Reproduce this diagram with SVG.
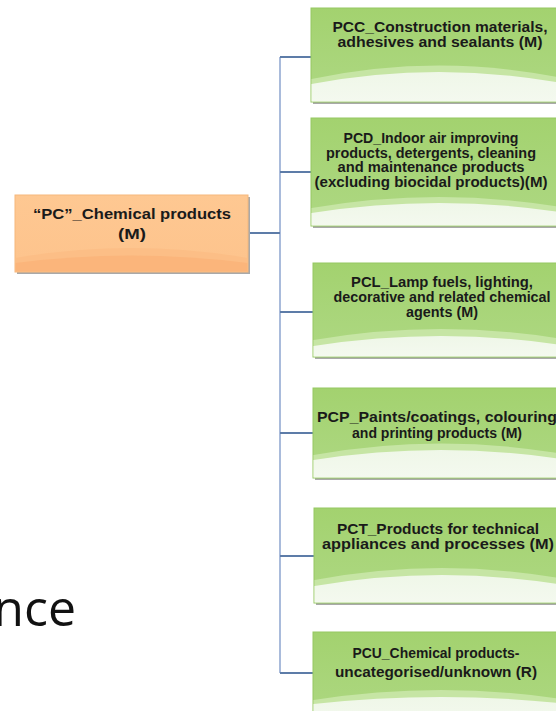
<svg xmlns="http://www.w3.org/2000/svg" width="556" height="711" viewBox="0 0 556 711">
  <defs>
    <linearGradient id="gGreen" x1="0" y1="0" x2="0" y2="1">
      <stop offset="0" stop-color="#a3d26f"/>
      <stop offset="1" stop-color="#aed883"/>
    </linearGradient>
    <linearGradient id="gGloss" x1="0" y1="0" x2="0" y2="1">
      <stop offset="0" stop-color="#eff7e8"/>
      <stop offset="1" stop-color="#f4f9ef"/>
    </linearGradient>
    <linearGradient id="gOrange" x1="0" y1="0" x2="0" y2="1">
      <stop offset="0" stop-color="#fec892"/>
      <stop offset="1" stop-color="#fdc38c"/>
    </linearGradient>
    <style>
      .shadow { fill: #a9a9a9; }
      .green { fill: url(#gGreen); stroke: #95c862; stroke-width: 1; }
      .band { fill: #c6e5a4; }
      .gloss { fill: url(#gGloss); }
      .orange { fill: url(#gOrange); stroke: #f5b87c; stroke-width: 1; }
      .oband { fill: #fbb57b; }
      .oband2 { fill: #fcbe86; }
      .lbl { font-family: "Liberation Sans", Arial, sans-serif; font-weight: 700; font-size: 14px; fill: #1a1a1a; text-anchor: middle; }
      .root { font-size: 15.5px; }
      .conn { fill: none; stroke-width: 2; }
      .trunk { stroke: #a9bbdb; }
      .branch { stroke: #5d7ca8; }
      .big { font-family: "Open Sans", "Liberation Sans", sans-serif; font-size: 50px; fill: #111; }
    </style>
  </defs>

  <rect width="556" height="711" fill="#ffffff"/>

  <text class="big" x="76" y="626" text-anchor="end">nce</text>

  <g id="connectors">
    <path class="conn trunk" d="M280 57 V673"/>
    <path class="conn branch" d="M249 233 H280"/>
    <path class="conn branch" d="M280 57 H311"/>
    <path class="conn branch" d="M280 172 H311"/>
    <path class="conn branch" d="M280 312 H313"/>
    <path class="conn branch" d="M280 433 H313"/>
    <path class="conn branch" d="M280 556 H314"/>
    <path class="conn branch" d="M280 673 H313"/>
  </g>

  <g id="root">
    <rect class="shadow" x="17" y="197" width="233" height="77"/>
    <rect class="orange" x="15" y="195" width="233" height="77"/>
    <path class="oband2" d="M15.5 258 Q131 238 247.5 258 V271.5 H15.5 Z"/>
    <path class="oband" d="M15.5 263 Q131 248 247.5 263 V271.5 H15.5 Z"/>
    <text class="lbl root" x="132" y="219" textLength="198" lengthAdjust="spacingAndGlyphs">“PC”_Chemical products</text>
    <text class="lbl root" x="132" y="239" textLength="28" lengthAdjust="spacingAndGlyphs">(M)</text>
  </g>

  <g id="pcc">
    <rect class="shadow" x="313" y="10" width="256" height="94"/>
    <rect class="green" x="311" y="8" width="256" height="94"/>
    <path class="band" d="M311.5 79 Q439 52 566.5 79 V101.5 H311.5 Z"/>
    <path class="gloss" d="M311.5 84 Q439 60 566.5 84 V101.5 H311.5 Z"/>
    <text class="lbl" x="440" y="32" textLength="215" lengthAdjust="spacingAndGlyphs">PCC_Construction materials,</text>
    <text class="lbl" x="440" y="47" textLength="205" lengthAdjust="spacingAndGlyphs">adhesives and sealants (M)</text>
  </g>

  <g id="pcd">
    <rect class="shadow" x="313" y="120" width="256" height="108"/>
    <rect class="green" x="311" y="118" width="256" height="108"/>
    <path class="band" d="M311.5 208 Q439 186 566.5 208 V225.5 H311.5 Z"/>
    <path class="gloss" d="M311.5 213 Q439 193 566.5 213 V225.5 H311.5 Z"/>
    <text class="lbl" x="431" y="143" textLength="175" lengthAdjust="spacingAndGlyphs">PCD_Indoor air improving</text>
    <text class="lbl" x="431" y="157.5" textLength="210" lengthAdjust="spacingAndGlyphs">products, detergents, cleaning</text>
    <text class="lbl" x="431" y="172" textLength="187" lengthAdjust="spacingAndGlyphs">and maintenance products</text>
    <text class="lbl" x="431" y="186.5" textLength="233" lengthAdjust="spacingAndGlyphs">(excluding biocidal products)(M)</text>
  </g>

  <g id="pcl">
    <rect class="shadow" x="315" y="265" width="256" height="94"/>
    <rect class="green" x="313" y="263" width="256" height="94"/>
    <path class="band" d="M313.5 340 Q441 318 568.5 340 V356.5 H313.5 Z"/>
    <path class="gloss" d="M313.5 346 Q441 326 568.5 346 V356.5 H313.5 Z"/>
    <text class="lbl" x="442" y="287" textLength="182" lengthAdjust="spacingAndGlyphs">PCL_Lamp fuels, lighting,</text>
    <text class="lbl" x="442" y="302" textLength="217" lengthAdjust="spacingAndGlyphs">decorative and related chemical</text>
    <text class="lbl" x="442" y="317" textLength="72" lengthAdjust="spacingAndGlyphs">agents (M)</text>
  </g>

  <g id="pcp">
    <rect class="shadow" x="315" y="390" width="256" height="90"/>
    <rect class="green" x="313" y="388" width="256" height="90"/>
    <path class="band" d="M313.5 455 Q441 432 568.5 455 V477.5 H313.5 Z"/>
    <path class="gloss" d="M313.5 460 Q441 440 568.5 460 V477.5 H313.5 Z"/>
    <text class="lbl" x="437" y="422" textLength="240" lengthAdjust="spacingAndGlyphs">PCP_Paints/coatings, colouring</text>
    <text class="lbl" x="437" y="438" textLength="170" lengthAdjust="spacingAndGlyphs">and printing products (M)</text>
  </g>

  <g id="pct">
    <rect class="shadow" x="316" y="510" width="256" height="95"/>
    <rect class="green" x="314" y="508" width="256" height="95"/>
    <path class="band" d="M314.5 580 Q442 556 569.5 580 V602.5 H314.5 Z"/>
    <path class="gloss" d="M314.5 586 Q442 564 569.5 586 V602.5 H314.5 Z"/>
    <text class="lbl" x="438" y="534" textLength="202" lengthAdjust="spacingAndGlyphs">PCT_Products for technical</text>
    <text class="lbl" x="438" y="549" textLength="232" lengthAdjust="spacingAndGlyphs">appliances and processes (M)</text>
  </g>

  <g id="pcu">
    <rect class="shadow" x="315" y="634" width="256" height="95"/>
    <rect class="green" x="313" y="632" width="256" height="95"/>
    <path class="band" d="M313.5 700 Q441 680 568.5 700 V726.5 H313.5 Z"/>
    <path class="gloss" d="M313.5 704 Q441 690 568.5 704 V726.5 H313.5 Z"/>
    <text class="lbl" x="436" y="658" textLength="167" lengthAdjust="spacingAndGlyphs">PCU_Chemical products-</text>
    <text class="lbl" x="436" y="677" textLength="202" lengthAdjust="spacingAndGlyphs">uncategorised/unknown (R)</text>
  </g>
</svg>
